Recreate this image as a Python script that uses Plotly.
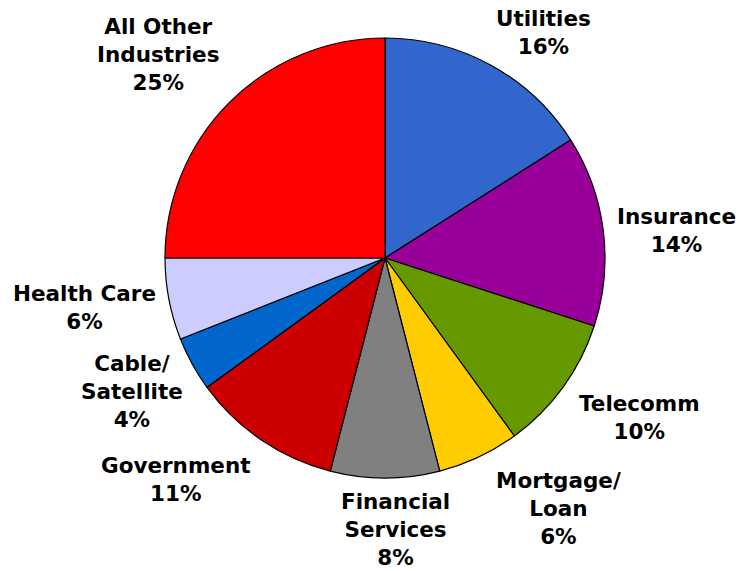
import plotly.graph_objects as go

# Share of total by industry (percent), clockwise from 12 o'clock
industries = ["Utilities", "Insurance", "Telecomm", "Mortgage/<br>Loan",
              "Financial<br>Services", "Government", "Cable/<br>Satellite",
              "Health Care", "All Other<br>Industries"]
shares = [16, 14, 10, 6, 8, 11, 4, 6, 25]
slice_colors = ["#3366CC", "#990099", "#669900", "#FFCC00", "#808080",
                "#CC0000", "#0066CC", "#CCCCFF", "#FF0000"]

# Label block centres in pixels (x from left, y from top)
label_centres = [(543, 32), (676, 230), (639, 417), (558, 508), (395, 529),
                 (176, 479), (132, 391), (84, 307), (158, 55)]

W, H = 741, 571
cx, cy, r = 385, 258, 220

fig = go.Figure(go.Pie(
    labels=industries,
    values=shares,
    textinfo="none",
    sort=False,
    direction="clockwise",
    rotation=0,
    marker=dict(colors=slice_colors, line=dict(color="black", width=1.2)),
    domain=dict(x=[(cx - r) / W, (cx + r) / W], y=[1 - (cy + r) / H, 1 - (cy - r) / H]),
    showlegend=False,
    hoverinfo="label+percent",
))

for lab, v, (px, py) in zip(industries, shares, label_centres):
    fig.add_annotation(
        x=px / W, y=1 - py / H, xref="paper", yref="paper",
        xanchor="center", yanchor="middle", align="center",
        text=f"{lab}<br>{v}%", showarrow=False,
        font=dict(family="DejaVu Sans", size=21.5, color="black", weight="bold"),
    )

fig.update_layout(
    width=W, height=H,
    margin=dict(l=0, r=0, t=0, b=0),
    paper_bgcolor="white",
    plot_bgcolor="white",
)

fig.write_html("out.html")
